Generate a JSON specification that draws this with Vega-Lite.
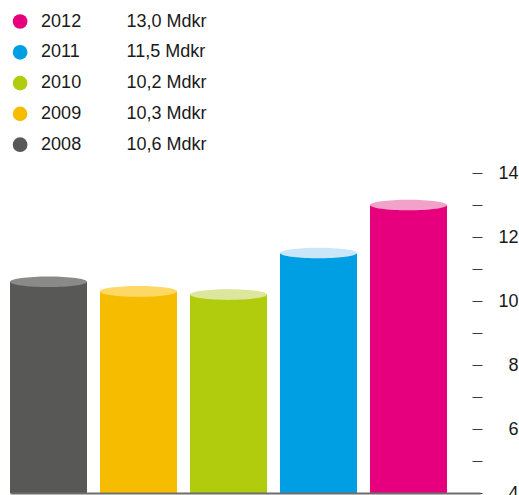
{
  "$schema": "https://vega.github.io/schema/vega-lite/v6.json",
  "width": 470,
  "height": 320,
  "autosize": {"type": "none"},
  "padding": {"left": 10, "top": 173, "right": 39, "bottom": 2},
  "background": "white",
  "config": {"view": {"stroke": null}, "font": "Liberation Sans"},
  "data": {
    "values": [
      {"year": "2008", "value": 10.6, "amount": "10,6 Mdkr"},
      {"year": "2009", "value": 10.3, "amount": "10,3 Mdkr"},
      {"year": "2010", "value": 10.2, "amount": "10,2 Mdkr"},
      {"year": "2011", "value": 11.5, "amount": "11,5 Mdkr"},
      {"year": "2012", "value": 13.0, "amount": "13,0 Mdkr"}
    ]
  },
  "encoding": {
    "x": {
      "field": "year",
      "type": "ordinal",
      "sort": ["2008", "2009", "2010", "2011", "2012"],
      "scale": {"paddingInner": 0.14444, "paddingOuter": 0.18333, "align": 0},
      "axis": {
        "title": null,
        "labels": false,
        "ticks": false,
        "domain": true,
        "domainColor": "#6e6e6e",
        "domainWidth": 2,
        "grid": false,
        "zindex": 1
      }
    },
    "y": {
      "field": "value",
      "type": "quantitative",
      "scale": {"domain": [4, 14], "zero": false, "nice": false},
      "axis": {
        "orient": "right",
        "offset": -8,
        "title": null,
        "values": [4, 5, 6, 7, 8, 9, 10, 11, 12, 13, 14],
        "labelExpr": "datum.value % 2 === 0 ? datum.label : ''",
        "labelOverlap": false,
        "domain": false,
        "grid": false,
        "tickSize": 10,
        "tickColor": "#3c3c3c",
        "tickWidth": 1,
        "labelAlign": "right",
        "labelPadding": 36,
        "labelFontSize": 18,
        "labelColor": "#1a1a1a",
        "labelFont": "Liberation Sans",
        "labelBaseline": "middle"
      }
    }
  },
  "layer": [
    {
      "mark": {"type": "bar"},
      "encoding": {
        "y2": {"datum": 4},
        "color": {
          "field": "year",
          "type": "nominal",
          "scale": {
            "domain": ["2012", "2011", "2010", "2009", "2008"],
            "range": ["#e6007e", "#009fe3", "#b1cb0d", "#f6bd00", "#585857"]
          },
          "legend": {
            "orient": "none",
            "legendX": 1.1,
            "legendY": -160.5,
            "title": null,
            "symbolType": "circle",
            "symbolSize": 216,
            "symbolStrokeWidth": 0,
            "symbolOpacity": 1,
            "labelFontSize": 18,
            "labelFont": "Liberation Sans",
            "labelColor": "#1a1a1a",
            "labelOffset": 12,
            "rowPadding": 12.8
          }
        }
      }
    },
    {
      "mark": {
        "type": "point",
        "shape": "M-1,0C-1,-0.0762,-0.5523,-0.138,0,-0.138C0.5523,-0.138,1,-0.0762,1,0C1,0.0762,0.5523,0.138,0,0.138C-0.5523,0.138,-1,0.0762,-1,0Z",
        "filled": true,
        "size": 5929,
        "opacity": 1,
        "strokeWidth": 0
      },
      "encoding": {
        "fill": {
          "field": "amount",
          "type": "nominal",
          "scale": {
            "domain": ["13,0 Mdkr", "11,5 Mdkr", "10,2 Mdkr", "10,3 Mdkr", "10,6 Mdkr"],
            "range": ["#f2a1c8", "#c9e7f8", "#dce69c", "#fdd865", "#8a8a89"]
          },
          "legend": {
            "orient": "none",
            "legendX": 86.5,
            "legendY": -160.5,
            "title": null,
            "symbolType": "circle",
            "symbolSize": 216,
            "symbolStrokeWidth": 0,
            "symbolOpacity": 0,
            "labelFontSize": 18,
            "labelFont": "Liberation Sans",
            "labelColor": "#1a1a1a",
            "labelOffset": 12,
            "rowPadding": 12.8
          }
        }
      }
    }
  ]
}
